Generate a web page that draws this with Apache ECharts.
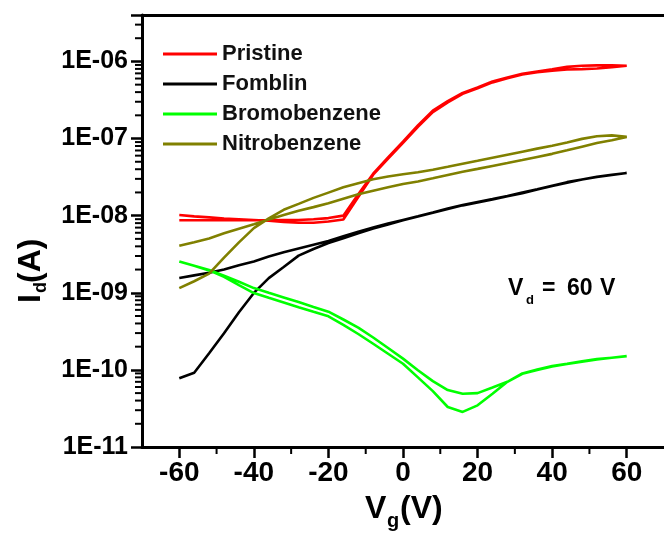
<!DOCTYPE html>
<html>
<head>
<meta charset="utf-8">
<title>Transfer curves</title>
<script src="https://cdn.jsdelivr.net/npm/echarts@6/dist/echarts.min.js"></script>
<style>
  html, body { margin: 0; padding: 0; background: #ffffff; }
  #chart { width: 664px; height: 534px; }
</style>
</head>
<body>
<div id="chart"></div>
<script>
// Gate voltage sweep (V); each device is swept -60 -> 60 and back.
const gateVoltage = [-60, -56, -52, -48, -44, -40, -36, -32, -28, -24, -20, -16, -12, -8, -4,
  0, 4, 8, 12, 16, 20, 24, 28, 32, 36, 40, 44, 48, 52, 56, 60];

// Drain current (A), listed by gate voltage from -60 to 60 for both sweep directions.
const pristineForward = [1.02e-8, 9.8e-9, 9.5e-9, 9.2e-9, 9.0e-9, 8.8e-9, 8.6e-9, 8.3e-9, 8.1e-9, 8.1e-9,
  8.4e-9, 8.9e-9, 1.75e-8, 3.4e-8, 5.5e-8, 8.8e-8, 1.42e-7, 2.2e-7, 2.95e-7, 3.8e-7, 4.5e-7, 5.35e-7,
  6.05e-7, 6.75e-7, 7.25e-7, 7.6e-7, 7.85e-7, 7.95e-7, 8.1e-7, 8.4e-7, 8.8e-7];
const pristineReverse = [8.7e-9, 8.7e-9, 8.7e-9, 8.7e-9, 8.7e-9, 8.7e-9, 8.7e-9, 8.8e-9, 8.8e-9, 9.0e-9,
  9.3e-9, 1.0e-8, 1.9e-8, 3.5e-8, 5.7e-8, 9.1e-8, 1.48e-7, 2.3e-7, 3.05e-7, 3.9e-7, 4.6e-7, 5.5e-7,
  6.2e-7, 6.9e-7, 7.4e-7, 7.9e-7, 8.5e-7, 8.8e-7, 8.9e-7, 8.9e-7, 8.8e-7];

const fomblinForward = [7.8e-11, 9.2e-11, 1.64e-10, 2.99e-10, 5.6e-10, 9.95e-10, 1.55e-9, 2.16e-9, 3.03e-9,
  3.7e-9, 4.43e-9, 5.1e-9, 5.9e-9, 6.8e-9, 7.7e-9, 8.7e-9, 9.75e-9, 1.09e-8, 1.22e-8, 1.36e-8, 1.48e-8,
  1.62e-8, 1.78e-8, 1.96e-8, 2.18e-8, 2.42e-8, 2.67e-8, 2.94e-8, 3.18e-8, 3.37e-8, 3.57e-8];
const fomblinReverse = [1.55e-9, 1.68e-9, 1.82e-9, 2.0e-9, 2.28e-9, 2.55e-9, 2.95e-9, 3.35e-9, 3.75e-9,
  4.2e-9, 4.7e-9, 5.4e-9, 6.2e-9, 7.0e-9, 7.9e-9, 8.8e-9, 9.8e-9, 1.1e-8, 1.24e-8, 1.37e-8, 1.5e-8,
  1.64e-8, 1.8e-8, 2.0e-8, 2.2e-8, 2.45e-8, 2.72e-8, 2.95e-8, 3.2e-8, 3.4e-8, 3.57e-8];

const bromobenzeneForward = [2.55e-9, 2.24e-9, 1.97e-9, 1.67e-9, 1.39e-9, 1.15e-9, 1.0e-9, 8.7e-10, 7.57e-10,
  6.56e-10, 5.69e-10, 4.5e-10, 3.53e-10, 2.63e-10, 1.92e-10, 1.4e-10, 9.9e-11, 7.16e-11, 5.48e-11, 4.9e-11,
  5.0e-11, 5.9e-11, 7.0e-11, 9.0e-11, 1.01e-10, 1.12e-10, 1.2e-10, 1.29e-10, 1.38e-10, 1.44e-10, 1.51e-10];
const bromobenzeneReverse = [2.55e-9, 2.24e-9, 1.95e-9, 1.61e-9, 1.26e-9, 9.9e-10, 8.6e-10, 7.5e-10, 6.5e-10,
  5.67e-10, 4.95e-10, 3.83e-10, 2.92e-10, 2.18e-10, 1.62e-10, 1.2e-10, 8.0e-11, 5.3e-11, 3.3e-11, 2.85e-11,
  3.47e-11, 4.9e-11, 7.0e-11, 8.9e-11, 1.0e-10, 1.11e-10, 1.19e-10, 1.28e-10, 1.37e-10, 1.44e-10, 1.51e-10];

const nitrobenzeneForward = [1.15e-9, 1.41e-9, 1.77e-9, 2.86e-9, 4.5e-9, 6.9e-9, 9.2e-9, 1.19e-8, 1.42e-8,
  1.7e-8, 1.99e-8, 2.33e-8, 2.64e-8, 2.96e-8, 3.22e-8, 3.44e-8, 3.66e-8, 3.94e-8, 4.31e-8, 4.72e-8, 5.16e-8,
  5.65e-8, 6.18e-8, 6.76e-8, 7.4e-8, 8.07e-8, 8.9e-8, 9.9e-8, 1.07e-7, 1.1e-7, 1.05e-7];
const nitrobenzeneReverse = [4.07e-9, 4.53e-9, 5.06e-9, 5.9e-9, 6.78e-9, 7.76e-9, 8.9e-9, 1.02e-8, 1.16e-8,
  1.29e-8, 1.45e-8, 1.66e-8, 1.9e-8, 2.11e-8, 2.33e-8, 2.57e-8, 2.77e-8, 3.05e-8, 3.37e-8, 3.72e-8, 4.04e-8,
  4.41e-8, 4.81e-8, 5.26e-8, 5.77e-8, 6.33e-8, 7.03e-8, 7.85e-8, 8.75e-8, 9.5e-8, 1.05e-7];

const seriesNames = ['Pristine', 'Fomblin', 'Bromobenzene', 'Nitrobenzene'];
const seriesColors = ['#ff0000', '#000000', '#00ff00', '#808000'];

// Axis ticks and labels
const xMin = -70;
const xMax = 70;
const xMajorTicks = [-60, -40, -20, 0, 20, 40, 60];
const xMinorTicks = [-50, -30, -10, 10, 30, 50];
const yTickExponents = [-11, -10, -9, -8, -7, -6];
const yTickLabels = ['1E-11', '1E-10', '1E-09', '1E-08', '1E-07', '1E-06'];
const yMinorTicks = [
  2e-11, 3e-11, 4e-11, 5e-11, 6e-11, 7e-11, 8e-11, 9e-11,
  2e-10, 3e-10, 4e-10, 5e-10, 6e-10, 7e-10, 8e-10, 9e-10,
  2e-9, 3e-9, 4e-9, 5e-9, 6e-9, 7e-9, 8e-9, 9e-9,
  2e-8, 3e-8, 4e-8, 5e-8, 6e-8, 7e-8, 8e-8, 9e-8,
  2e-7, 3e-7, 4e-7, 5e-7, 6e-7, 7e-7, 8e-7, 9e-7,
  2e-6, 3e-6];
const yMin = 1e-11;
const yMax = 4e-6;

const FONT = '"Liberation Sans", Arial, Helvetica, sans-serif';
const MAJOR_TICK_LEN = 11;
const MINOR_TICK_LEN = 7;

// A hysteresis loop: forward sweep followed by the return sweep.
function loop(forward, reverse) {
  const fwd = gateVoltage.map((v, i) => [v, forward[i]]);
  const back = gateVoltage.map((v, i) => [v, reverse[i]]).reverse();
  return fwd.concat(back);
}

const loops = [
  loop(pristineForward, pristineReverse),
  loop(fomblinForward, fomblinReverse),
  loop(bromobenzeneForward, bromobenzeneReverse),
  loop(nitrobenzeneForward, nitrobenzeneReverse)
];

function yLabel(v) {
  const lg = Math.log10(v);
  const e = Math.round(lg);
  if (Math.abs(lg - e) > 1e-6) return '';
  const k = yTickExponents.indexOf(e);
  return k >= 0 ? yTickLabels[k] : '';
}

function txt(x, y, text, size) {
  return {
    type: 'text', x: x, y: y,
    style: {
      text: text, fill: '#000', fontSize: size, fontWeight: 'bold', fontFamily: FONT,
      align: 'left', verticalAlign: 'middle'
    }
  };
}

const axisColor = '#000';

// Titles and the bias note
const textGraphics = [
  // y-axis title I_d(A), reading bottom to top
  {
    type: 'group', x: 31, y: 303, rotation: Math.PI / 2,
    children: [
      txt(0, 0, 'I', 32),
      txt(10, 10, 'd', 18),
      txt(20, 0, '(A)', 32)
    ]
  },
  // x-axis title V_g(V)
  {
    type: 'group', x: 365, y: 509,
    children: [
      txt(0, 0, 'V', 32),
      txt(22, 12, 'g', 20),
      txt(35, 0, '(V)', 32)
    ]
  },
  // drain bias note
  {
    type: 'group', x: 508, y: 289,
    children: [
      txt(0, 0, 'V', 23),
      txt(18, 11, 'd', 13),
      txt(34, 0, '=', 23),
      txt(59, 0, '60', 23),
      txt(92, 0, 'V', 23)
    ]
  }
];

const option = {
  animation: false,
  backgroundColor: '#ffffff',
  grid: { left: 142, top: 15, width: 529, height: 432, containLabel: false },
  xAxis: [
    {
      type: 'value', min: xMin, max: xMax, position: 'bottom',
      axisLine: { show: true, onZero: false, lineStyle: { color: axisColor, width: 3 } },
      axisTick: { show: true, customValues: xMajorTicks, length: MAJOR_TICK_LEN, lineStyle: { color: axisColor, width: 2.5 } },
      axisLabel: { customValues: xMajorTicks, margin: 12, fontSize: 28, fontWeight: 'bold', color: '#000', fontFamily: FONT },
      splitLine: { show: false }
    },
    {
      type: 'value', min: xMin, max: xMax, position: 'top',
      axisLine: { show: true, onZero: false, lineStyle: { color: axisColor, width: 3 } },
      axisTick: { show: false },
      axisLabel: { show: false },
      splitLine: { show: false }
    }
  ],
  yAxis: [
    {
      type: 'log', logBase: 10, min: yMin, max: yMax, position: 'left',
      axisLine: { show: true, onZero: false, lineStyle: { color: axisColor, width: 3 } },
      axisTick: { show: true, length: MAJOR_TICK_LEN, lineStyle: { color: axisColor, width: 2.5 } },
      axisLabel: { formatter: yLabel, margin: 14, fontSize: 25, fontWeight: 'bold', color: '#000', fontFamily: FONT },
      splitLine: { show: false },
      minorTick: { show: false }
    }
  ],
  legend: {
    orient: 'vertical', left: 158, top: 38,
    icon: 'rect',
    itemWidth: 54, itemHeight: 3, itemGap: 8,
    data: seriesNames,
    textStyle: { fontSize: 22, lineHeight: 22, fontWeight: 'bold', color: '#111', fontFamily: FONT }
  },
  series: seriesNames.map((name, i) => ({
    name: name,
    type: 'line',
    xAxisIndex: 0,
    yAxisIndex: 0,
    data: loops[i],
    symbol: 'none',
    smooth: false,
    color: seriesColors[i],
    lineStyle: { color: seriesColors[i], width: 2.6 },
    itemStyle: { color: seriesColors[i] }
  })),
  graphic: textGraphics
};

const chart = echarts.init(document.getElementById('chart'), null, { renderer: 'canvas' });
chart.setOption(option);

// Minor ticks on the left and bottom frame, placed through the axes' own scales.
const frameLeft = chart.convertToPixel({ xAxisIndex: 0 }, xMin);
const frameBottom = chart.convertToPixel({ yAxisIndex: 0 }, yMin);
const tickStyle = { stroke: '#000', lineWidth: 2 };
const minorTickGraphics = [];
yMinorTicks.forEach(function (v) {
  const py = chart.convertToPixel({ yAxisIndex: 0 }, v);
  if (isFinite(py)) {
    minorTickGraphics.push({
      type: 'line', z: 10, silent: true,
      shape: { x1: frameLeft - MINOR_TICK_LEN, y1: py, x2: frameLeft, y2: py },
      style: tickStyle
    });
  }
});
xMinorTicks.forEach(function (v) {
  const px = chart.convertToPixel({ xAxisIndex: 0 }, v);
  if (isFinite(px)) {
    minorTickGraphics.push({
      type: 'line', z: 10, silent: true,
      shape: { x1: px, y1: frameBottom, x2: px, y2: frameBottom + MINOR_TICK_LEN },
      style: tickStyle
    });
  }
});
chart.setOption({ graphic: textGraphics.concat(minorTickGraphics) });
</script>
</body>
</html>
